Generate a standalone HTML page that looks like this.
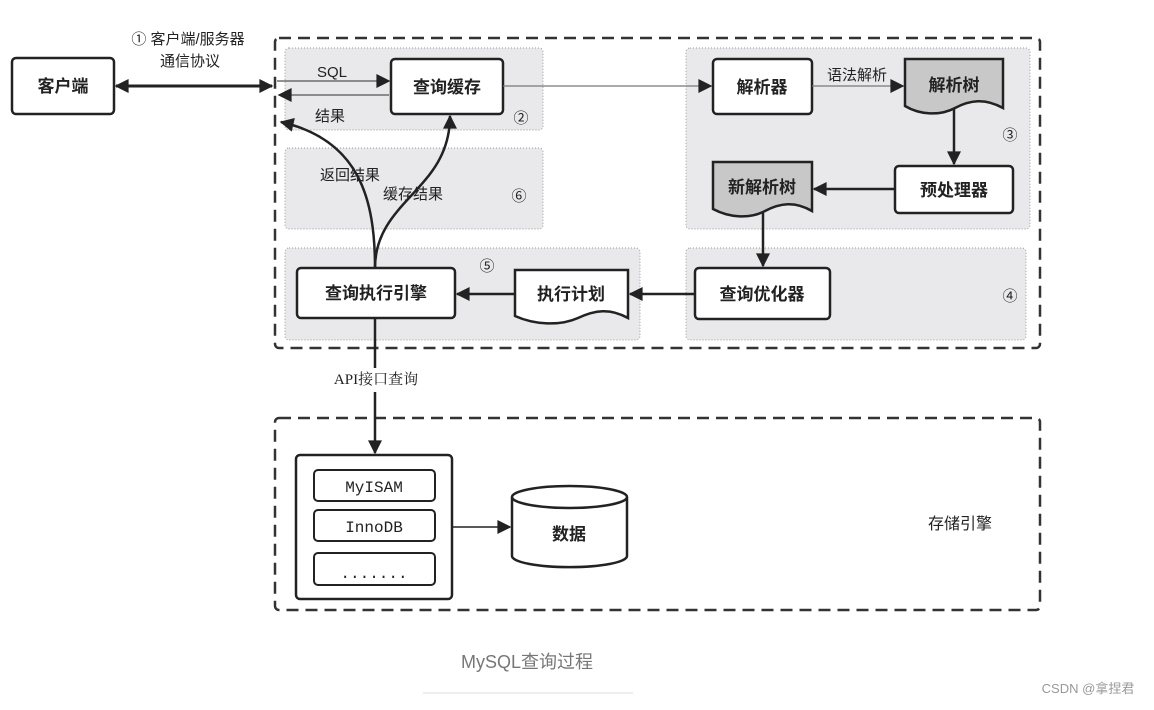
<!DOCTYPE html>
<html><head><meta charset="utf-8"><style>
body{margin:0;background:#fff;}
svg text{font-family:"Liberation Sans","Noto Sans CJK SC",sans-serif;fill:#222;}
</style></head><body>
<svg width="1154" height="705" viewBox="0 0 1154 705" xmlns="http://www.w3.org/2000/svg">
<defs>
<marker id="b" viewBox="0 0 10 10" refX="9" refY="5" markerWidth="16" markerHeight="14" orient="auto-start-reverse" markerUnits="userSpaceOnUse"><path d="M0,0 L10,5 L0,10z" fill="#222"/></marker>
</defs>
<rect x="0" y="0" width="1154" height="630" fill="#fff"/>
<g fill="#e9e9eb" stroke="#999" stroke-dasharray="1,2">
<rect x="285" y="48" width="258" height="82" rx="4"/>
<rect x="285" y="148" width="258" height="81" rx="4"/>
<rect x="285" y="248" width="355" height="92" rx="4"/>
<rect x="686" y="48" width="344" height="181" rx="4"/>
<rect x="686" y="248" width="340" height="92" rx="4"/>
</g>
<rect x="275" y="38" width="765" height="310" rx="4" fill="none" stroke="#333" stroke-width="2.5" stroke-dasharray="12,7"/>
<rect x="275" y="418" width="765" height="192" rx="4" fill="none" stroke="#333" stroke-width="2.5" stroke-dasharray="12,7"/>
<g fill="#fff" stroke="#222" stroke-width="2.5">
<rect x="12" y="58" width="102" height="56" rx="4"/>
<rect x="391" y="59" width="112" height="55" rx="4"/>
<rect x="713" y="59" width="99" height="55" rx="4"/>
<rect x="895" y="166" width="118" height="47" rx="4"/>
<rect x="695" y="268" width="135" height="51" rx="4"/>
<rect x="297" y="268" width="158" height="50" rx="4"/>
<rect x="296" y="455" width="156" height="144" rx="4"/>
</g>
<g fill="#fff" stroke="#222" stroke-width="2">
<rect x="314" y="470" width="121" height="31" rx="4"/>
<rect x="314" y="510" width="121" height="31" rx="4"/>
<rect x="314" y="553" width="121" height="32" rx="4"/>
</g>
<path d="M905,59 H1003 V108 C985,98 970,100 955,108 C940,116 920,115 905,106 Z" fill="#c8c8c8" stroke="#222" stroke-width="2.5"/>
<path d="M713,162 H812 V211 C795,201 780,203 765,211 C750,219 730,218 713,209 Z" fill="#c8c8c8" stroke="#222" stroke-width="2.5"/>
<path d="M515,270 H628 V318 C610,308 595,310 578,318 C560,326 535,325 515,316 Z" fill="#fff" stroke="#222" stroke-width="2.5"/>
<path d="M512,497 V556 A57,11 0 0 0 627,556 V497" fill="#fff" stroke="#222" stroke-width="2.5"/>
<ellipse cx="569.5" cy="497" rx="57.5" ry="11" fill="#fff" stroke="#222" stroke-width="2.5"/>
<g stroke="#222" fill="none">
<line x1="116" y1="86" x2="272" y2="86" stroke-width="3" marker-start="url(#b)" marker-end="url(#b)"/>
<line x1="277" y1="81" x2="389" y2="81" stroke-width="1.2" stroke="#555" marker-end="url(#b)"/>
<line x1="389" y1="95" x2="279" y2="95" stroke-width="1.2" stroke="#555" marker-end="url(#b)"/>
<line x1="503" y1="86" x2="711" y2="86" stroke-width="1.2" stroke="#777" marker-end="url(#b)"/>
<line x1="812" y1="86" x2="903" y2="86" stroke-width="1.2" stroke="#777" marker-end="url(#b)"/>
<line x1="954" y1="108" x2="954" y2="164" stroke-width="2.5" marker-end="url(#b)"/>
<line x1="895" y1="189" x2="814" y2="189" stroke-width="2.5" marker-end="url(#b)"/>
<line x1="763" y1="213" x2="763" y2="266" stroke-width="2.5" marker-end="url(#b)"/>
<line x1="695" y1="294" x2="630" y2="294" stroke-width="2.5" marker-end="url(#b)"/>
<line x1="515" y1="294" x2="457" y2="294" stroke-width="2.5" marker-end="url(#b)"/>
<path d="M375,268 C375,200 360,140 281,122" stroke-width="2.5" marker-end="url(#b)"/>
<path d="M375,268 C375,200 450,190 450,116" stroke-width="2.5" marker-end="url(#b)"/>
<line x1="375" y1="318" x2="375" y2="368" stroke-width="2.5"/>
<line x1="375" y1="392" x2="375" y2="453" stroke-width="2.5" marker-end="url(#b)"/>
<line x1="452" y1="527" x2="510" y2="527" stroke-width="1.5" marker-end="url(#b)"/>
</g>
<g font-size="17" text-anchor="middle" font-weight="bold" style="font-weight:600">
<text x="63" y="92">客户端</text>
<text x="447" y="93">查询缓存</text>
<text x="762" y="93">解析器</text>
<text x="954" y="91">解析树</text>
<text x="954" y="196">预处理器</text>
<text x="762" y="193">新解析树</text>
<text x="762" y="300">查询优化器</text>
<text x="571" y="300">执行计划</text>
<text x="376" y="299">查询执行引擎</text>
<text x="569" y="540">数据</text>
</g>
<text x="960" y="529" font-size="16" text-anchor="middle">存储引擎</text>
<g font-size="15" text-anchor="middle">
<text x="188" y="44">① 客户端/服务器</text>
<text x="190" y="66">通信协议</text>
<text x="332" y="77">SQL</text>
<text x="330" y="121">结果</text>
<text x="521" y="123">②</text>
<text x="350" y="180">返回结果</text>
<text x="413" y="199">缓存结果</text>
<text x="519" y="201">⑥</text>
<text x="487" y="271">⑤</text>
<text x="857" y="80">语法解析</text>
<text x="1010" y="140">③</text>
<text x="1010" y="301">④</text>
</g>
<text x="376" y="384" font-size="15" text-anchor="middle" style="font-family:'Liberation Serif','Noto Serif CJK SC',serif">API接口查询</text>
<g font-size="16" text-anchor="middle">
<text x="374" y="492" style="font-family:'Liberation Mono',monospace">MyISAM</text>
<text x="374" y="532" style="font-family:'Liberation Mono',monospace">InnoDB</text>
<text x="374" y="578" style="font-family:'Liberation Mono',monospace">.......</text>
</g>
<text x="527" y="668" font-size="18" text-anchor="middle" style="fill:#777">MySQL查询过程</text>
<line x1="423" y1="693" x2="633" y2="693" stroke="#ddd" stroke-width="1"/>
<text x="1088" y="693" font-size="13" text-anchor="middle" style="fill:#999">CSDN @拿捏君</text>
</svg>
</body></html>
